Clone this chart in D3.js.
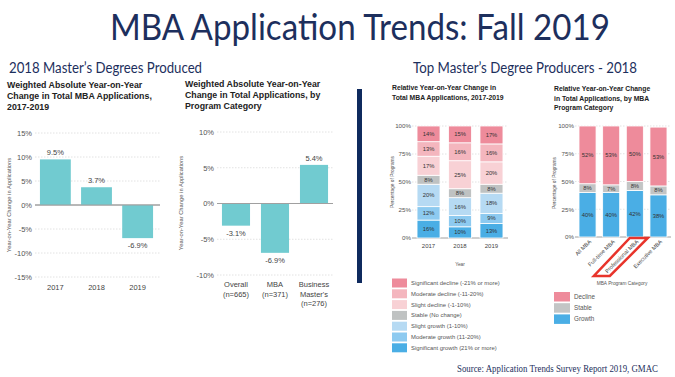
<!DOCTYPE html>
<meta charset="utf-8">
<script src="https://d3js.org/d3.v7.min.js"></script>
<body style="margin:0; background:#fff">
<div id="chart"></div>
</body>
<script>
// ---- data ----
var years = ["2017", "2018", "2019"];
var yearChange = [9.5, 3.7, -6.9];

var categories = ["Overall", "MBA", "Business Master's"];
var categoryLines = [["Overall", "(n=665)"], ["MBA", "(n=371)"], ["Business", "Master's", "(n=276)"]];
var categoryChange = [-3.1, -6.9, 5.4];

// bottom to top
var bands = ["Significant growth (21% or more)", "Moderate growth (11-20%)", "Slight growth (1-10%)",
  "Stable (No change)", "Slight decline (-1-10%)", "Moderate decline (-11-20%)", "Significant decline (-21% or more)"];
var bandColors = ["#4aaee5", "#8dcaf0", "#b6daf3", "#bfc2c2", "#f8d1d5", "#f4b6be", "#ee8b9b"];
var share2017 = [16, 12, 20, 8, 17, 13, 14];
var share2018 = [10, 10, 16, 8, 25, 16, 15];
var share2019 = [13, 9, 18, 8, 20, 16, 17];

var programs = ["All MBA", "Full-time MBA", "Professional MBA", "Executive MBA"];
var outcome = ["Growth", "Stable", "Decline"];
var outcomeColors = ["#4aaee5", "#c3c5c5", "#ee8b9b"];
var growthShare = [40, 40, 42, 38];
var stableShare = [8, 7, 8, 8];
var declineShare = [52, 53, 50, 53];

var pctTicks1 = [-15, -10, -5, 0, 5, 10, 15];
var pctTicks2 = [-10, -5, 0, 5, 10];
var shareTicks = [0, 25, 50, 75, 100];

var navy = "#1d2f5d";
var teal = "#71cbd0";

var svg = d3.select("#chart").append("svg")
    .attr("width", 675)
    .attr("height", 377)
    .style("font-family", "'Liberation Sans', Arial, sans-serif");

// ---- headings ----
svg.append("text")
    .attr("x", 110).attr("y", 40)
    .attr("font-family", "Lato").attr("font-size", 37)
    .attr("fill", navy)
    .attr("textLength", 500).attr("lengthAdjust", "spacingAndGlyphs")
    .text("MBA Application Trends: Fall 2019");

svg.append("text")
    .attr("x", 9).attr("y", 73)
    .attr("font-family", "Lato").attr("font-size", 14.5)
    .attr("fill", navy)
    .attr("textLength", 193).attr("lengthAdjust", "spacingAndGlyphs")
    .text("2018 Master\u2019s Degrees Produced");

svg.append("text")
    .attr("x", 413).attr("y", 73)
    .attr("font-family", "Lato").attr("font-size", 14.5)
    .attr("fill", navy)
    .attr("textLength", 224).attr("lengthAdjust", "spacingAndGlyphs")
    .text("Top Master\u2019s Degree Producers - 2018");

// divider
svg.append("rect")
    .attr("x", 357).attr("y", 89)
    .attr("width", 5).attr("height", 194)
    .attr("fill", "#0f2a5e");

// source
svg.append("text")
    .attr("x", 457).attr("y", 372)
    .attr("font-family", "'Liberation Serif', serif").attr("font-size", 9.4)
    .attr("fill", navy)
    .attr("textLength", 201).attr("lengthAdjust", "spacingAndGlyphs")
    .text("Source: Application Trends Survey Report 2019, GMAC");

function chartTitle(x, y, lines, size, gap) {
    svg.append("g").selectAll("text")
        .data(lines)
        .join("text")
        .attr("x", x)
        .attr("y", function (d, i) { return y + i * gap; })
        .attr("font-size", size)
        .attr("font-weight", "bold")
        .attr("fill", "#222")
        .text(function (d) { return d; });
}

function grid(g, scale, ticks, x0, x1) {
    g.append("g").selectAll("line")
        .data(ticks)
        .join("line")
        .attr("x1", x0).attr("x2", x1)
        .attr("y1", function (d) { return scale(d); })
        .attr("y2", function (d) { return scale(d); })
        .attr("stroke", function (d) { return d === 0 ? "#a0a0a0" : "#e2e2e2"; })
        .attr("stroke-dasharray", function (d) { return d === 0 ? null : "1.5,1.5"; });
}

function yAxis(g, scale, ticks, x, size) {
    var ax = g.append("g")
        .attr("transform", "translate(" + x + ",0)")
        .call(d3.axisLeft(scale).tickValues(ticks).tickSize(0).tickPadding(0)
            .tickFormat(function (d) { return d + "%"; }));
    ax.select(".domain").remove();
    ax.selectAll("text").attr("font-size", size).attr("fill", "#555")
        .attr("font-family", "'Liberation Sans', Arial, sans-serif");
}

function axisTitle(x, y, txt, size) {
    svg.append("text")
        .attr("transform", "translate(" + x + "," + y + ") rotate(-90)")
        .attr("text-anchor", "middle")
        .attr("font-size", size)
        .attr("fill", "#555")
        .text(txt);
}

// ---- chart 1: change by year ----
chartTitle(7, 88, ["Weighted Absolute Year-on-Year", "Change in Total MBA Applications,", "2017-2019"], 8.8, 11);

var g1 = svg.append("g");
var y1 = d3.scaleLinear().domain([-15, 15]).range([277, 133]);
var x1 = d3.scaleBand().domain(years).range([35, 158]).paddingInner(0.25).paddingOuter(0.12);
grid(g1, y1, pctTicks1, 35, 160);
yAxis(g1, y1, pctTicks1, 32, 7.5);
axisTitle(11, 205, "Year-on-Year Change in Applications", 5.8);

g1.append("g").selectAll("rect")
    .data(yearChange)
    .join("rect")
    .attr("x", function (d, i) { return x1(years[i]); })
    .attr("y", function (d) { return Math.min(y1(d), y1(0)); })
    .attr("width", x1.bandwidth())
    .attr("height", function (d) { return Math.abs(y1(d) - y1(0)); })
    .attr("fill", teal);
grid(g1, y1, [0], 35, 160);

g1.append("g").selectAll("text")
    .data(yearChange)
    .join("text")
    .attr("x", function (d, i) { return x1(years[i]) + x1.bandwidth() / 2; })
    .attr("y", function (d) { return d >= 0 ? y1(d) - 4 : y1(d) + 10; })
    .attr("text-anchor", "middle").attr("font-size", 7.5).attr("fill", "#444")
    .text(function (d) { return d.toFixed(1) + "%"; });

g1.append("g").selectAll("text")
    .data(years)
    .join("text")
    .attr("x", function (d) { return x1(d) + x1.bandwidth() / 2; })
    .attr("y", 290)
    .attr("text-anchor", "middle").attr("font-size", 7.5).attr("fill", "#444")
    .text(function (d) { return d; });

// ---- chart 2: change by program category ----
chartTitle(185, 87, ["Weighted Absolute Year-on-Year", "Change in Total Applications, by", "Program Category"], 8.8, 11);

var g2 = svg.append("g");
var y2 = d3.scaleLinear().domain([-10, 10]).range([275, 132]);
var x2 = d3.scaleBand().domain(categories).range([217, 333]).paddingInner(0.28).paddingOuter(0.127);
grid(g2, y2, pctTicks2, 217, 333);
yAxis(g2, y2, pctTicks2, 214, 7.5);
axisTitle(183, 203, "Year-on-Year Change in Applications", 5.8);

g2.append("g").selectAll("rect")
    .data(categoryChange)
    .join("rect")
    .attr("x", function (d, i) { return x2(categories[i]); })
    .attr("y", function (d) { return Math.min(y2(d), y2(0)); })
    .attr("width", x2.bandwidth())
    .attr("height", function (d) { return Math.abs(y2(d) - y2(0)); })
    .attr("fill", teal);
grid(g2, y2, [0], 217, 333);

g2.append("g").selectAll("text")
    .data(categoryChange)
    .join("text")
    .attr("x", function (d, i) { return x2(categories[i]) + x2.bandwidth() / 2; })
    .attr("y", function (d) { return d >= 0 ? y2(d) - 4 : y2(d) + 10; })
    .attr("text-anchor", "middle").attr("font-size", 7.5).attr("fill", "#444")
    .text(function (d) { return d.toFixed(1) + "%"; });

categoryLines.forEach(function (lines, i) {
    g2.append("g").selectAll("text")
        .data(lines)
        .join("text")
        .attr("x", x2(categories[i]) + x2.bandwidth() / 2)
        .attr("y", function (d, j) { return 287 + j * 9.5; })
        .attr("text-anchor", "middle").attr("font-size", 7.5).attr("fill", "#444")
        .text(function (d) { return d; });
});

// ---- chart 3: stacked by year ----
chartTitle(392, 90, ["Relative Year-on-Year Change in", "Total MBA Applications, 2017-2019"], 6.8, 10);

var shareTable = [share2017, share2018, share2019].map(function (arr, i) {
    var row = { year: years[i] };
    bands.forEach(function (b, j) { row[b] = arr[j]; });
    return row;
});
var stack3 = d3.stack().keys(bands)(shareTable);

var g3 = svg.append("g");
var y3 = d3.scaleLinear().domain([0, 100]).range([238, 126]);
var x3 = d3.scaleBand().domain(years).range([412, 508]).paddingInner(0.27).paddingOuter(0.16);
var color3 = d3.scaleOrdinal().domain(bands).range(bandColors);
grid(g3, y3, shareTicks, 412, 508);
yAxis(g3, y3, shareTicks, 411, 6.2);
axisTitle(394, 182, "Percentage of Programs", 4.8);

var layer3 = g3.append("g").selectAll("g")
    .data(stack3)
    .join("g")
    .attr("fill", function (d) { return color3(d.key); });
layer3.selectAll("rect")
    .data(function (d) { return d; })
    .join("rect")
    .attr("x", function (d) { return x3(d.data.year); })
    .attr("y", function (d) { return y3(Math.min(d[1], 100)); })
    .attr("width", x3.bandwidth())
    .attr("height", function (d) { return y3(d[0]) - y3(Math.min(d[1], 100)); })
    .attr("stroke", "#fff").attr("stroke-width", 0.8);
layer3.selectAll("text")
    .data(function (d) { return d; })
    .join("text")
    .attr("x", function (d) { return x3(d.data.year) + x3.bandwidth() / 2; })
    .attr("y", function (d) { return y3((d[0] + Math.min(d[1], 100)) / 2) + 2; })
    .attr("text-anchor", "middle").attr("font-size", 5.8).attr("fill", "#333")
    .text(function (d) { return (d[1] - d[0]) + "%"; });

g3.append("g").selectAll("text.yr")
    .data(years)
    .join("text")
    .attr("x", function (d) { return x3(d) + x3.bandwidth() / 2; })
    .attr("y", 248)
    .attr("text-anchor", "middle").attr("font-size", 6).attr("fill", "#444")
    .text(function (d) { return d; });

svg.append("text").attr("x", 460).attr("y", 266)
    .attr("text-anchor", "middle").attr("font-size", 4.8).attr("fill", "#555")
    .text("Year");

// legend 3 (top: significant decline)
var legend3 = svg.append("g").selectAll("g")
    .data(bands.slice().reverse())
    .join("g")
    .attr("transform", function (d, i) { return "translate(392," + (278.5 + i * 10.8) + ")"; });
legend3.append("rect").attr("width", 15).attr("height", 9)
    .attr("fill", function (d) { return color3(d); });
legend3.append("text").attr("x", 19).attr("y", 6.5)
    .attr("font-size", 5.9).attr("fill", "#555")
    .text(function (d) { return d; });

// ---- chart 4: stacked by MBA program ----
chartTitle(554, 91, ["Relative Year-on-Year Change", "in Total Applications, by MBA", "Program Category"], 6.8, 9.5);

var programTable = programs.map(function (p, i) {
    return { program: p, Growth: growthShare[i], Stable: stableShare[i], Decline: declineShare[i] };
});
var stack4 = d3.stack().keys(outcome)(programTable);

var g4 = svg.append("g");
var y4 = d3.scaleLinear().domain([0, 100]).range([237, 126]);
var x4 = d3.scaleBand().domain(programs).range([575, 671]).paddingInner(0.28).paddingOuter(0.17);
var color4 = d3.scaleOrdinal().domain(outcome).range(outcomeColors);
grid(g4, y4, shareTicks, 575, 671);
yAxis(g4, y4, shareTicks, 574, 6.2);
axisTitle(556, 183, "Percentage of Programs", 4.8);

var layer4 = g4.append("g").selectAll("g")
    .data(stack4)
    .join("g")
    .attr("fill", function (d) { return color4(d.key); });
layer4.selectAll("rect")
    .data(function (d) { return d; })
    .join("rect")
    .attr("x", function (d) { return x4(d.data.program); })
    .attr("y", function (d) { return y4(d[1]); })
    .attr("width", x4.bandwidth())
    .attr("height", function (d) { return y4(d[0]) - y4(d[1]); })
    .attr("stroke", "#fff").attr("stroke-width", 0.8);
layer4.selectAll("text")
    .data(function (d) { return d; })
    .join("text")
    .attr("x", function (d) { return x4(d.data.program) + x4.bandwidth() / 2; })
    .attr("y", function (d) { return y4((d[0] + d[1]) / 2) + 2; })
    .attr("text-anchor", "middle").attr("font-size", 5.8).attr("fill", "#333")
    .text(function (d) { return (d[1] - d[0]) + "%"; });

g4.append("g").selectAll("text")
    .data(programs)
    .join("text")
    .attr("transform", function (d) {
        return "translate(" + (x4(d) + x4.bandwidth() / 2 + 4) + ",242) rotate(-45)";
    })
    .attr("text-anchor", "end").attr("font-size", 5.6).attr("fill", "#444")
    .text(function (d) { return d; });

// red highlight around "Professional MBA"
var pc = x4("Professional MBA") + x4.bandwidth() / 2;
svg.append("path")
    .attr("d", "M" + (pc - 5) + ",238 L" + (pc + 13) + ",238 L" + (pc - 25) + ",276 L" + (pc - 41) + ",276 Z")
    .attr("fill", "none")
    .attr("stroke", "#e8342b")
    .attr("stroke-width", 2.5)
    .attr("stroke-linejoin", "miter");

svg.append("text").attr("x", 622).attr("y", 285)
    .attr("text-anchor", "middle").attr("font-size", 4.8).attr("fill", "#555")
    .text("MBA Program Category");

// legend 4 (top: decline)
var legend4 = svg.append("g").selectAll("g")
    .data(outcome.slice().reverse())
    .join("g")
    .attr("transform", function (d, i) { return "translate(554," + (292 + i * 11.2) + ")"; });
legend4.append("rect").attr("width", 16).attr("height", 9.5)
    .attr("fill", function (d) { return color4(d); });
legend4.append("text").attr("x", 20).attr("y", 7)
    .attr("font-size", 6.3).attr("fill", "#555")
    .text(function (d) { return d; });
</script>
